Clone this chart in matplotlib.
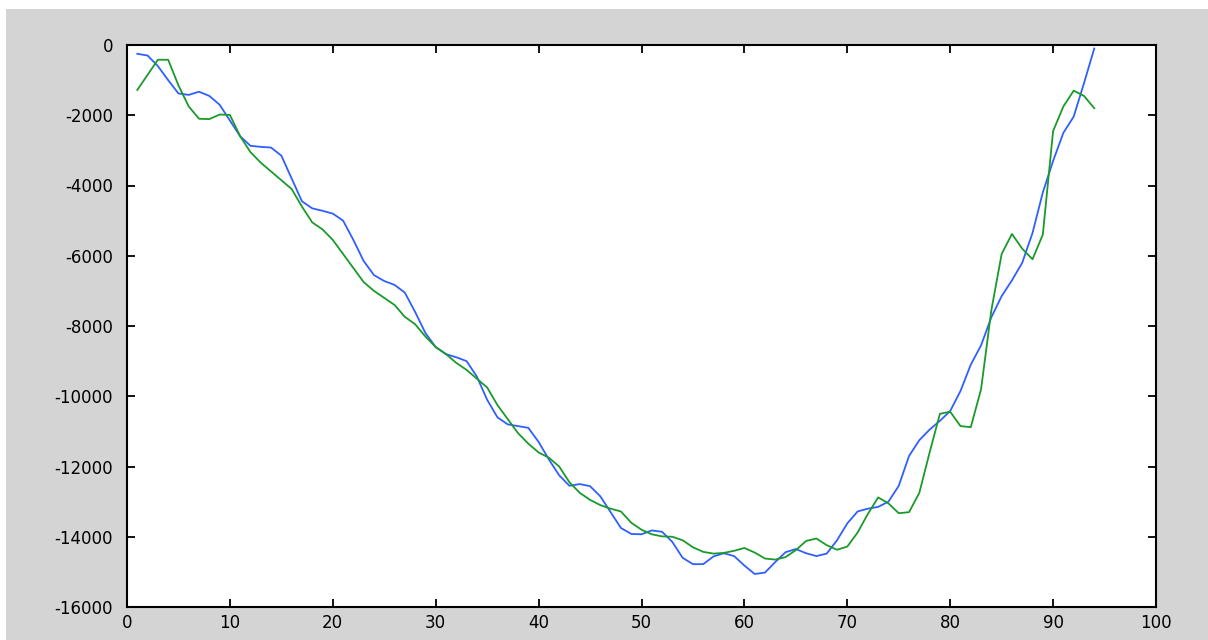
import matplotlib
matplotlib.use("Agg")
import matplotlib.pyplot as plt
from matplotlib.patches import Rectangle

x_values = list(range(1, 95))

blue_series = [
    -250, -300, -600, -1000, -1380, -1420, -1330, -1450, -1700, -2150,
    -2600, -2870, -2900, -2920, -3150, -3800, -4450, -4650, -4720, -4800,
    -5000, -5550, -6150, -6550, -6720, -6830, -7050, -7600, -8200, -8600,
    -8800, -8890, -9000, -9440, -10100, -10600, -10800, -10850, -10900, -11300,
    -11800, -12250, -12550, -12500, -12560, -12850, -13300, -13750, -13920, -13930,
    -13820, -13860, -14150, -14600, -14780, -14780, -14560, -14470, -14550, -14820,
    -15060, -15020, -14720, -14440, -14350, -14470, -14550, -14480, -14100, -13620,
    -13280, -13200, -13150, -13000, -12550, -11700, -11250, -10950, -10700, -10420,
    -9850, -9100, -8550, -7750, -7150, -6700, -6200, -5350, -4200, -3300,
    -2500, -2040, -1090, -100,
]

green_series = [
    -1280, -850, -420, -420, -1150, -1750, -2100, -2110, -1980, -1990,
    -2600, -3050, -3350, -3600, -3850, -4100, -4600, -5050, -5250, -5550,
    -5950, -6350, -6750, -7000, -7200, -7400, -7740, -7950, -8300, -8600,
    -8800, -9050, -9250, -9500, -9750, -10250, -10650, -11050, -11350, -11600,
    -11750, -12000, -12450, -12750, -12950, -13100, -13200, -13280, -13600, -13800,
    -13930, -13990, -14000, -14100, -14300, -14430, -14480, -14460, -14400, -14320,
    -14450, -14620, -14650, -14580, -14380, -14120, -14050, -14240, -14370, -14280,
    -13880, -13350, -12880, -13050, -13330, -13300, -12750, -11600, -10500, -10440,
    -10850, -10880, -9800, -7550, -5950, -5380, -5800, -6100, -5400, -2450,
    -1750, -1300, -1450, -1800,
]

x_ticks = [0, 10, 20, 30, 40, 50, 60, 70, 80, 90, 100]
y_ticks = [0, -2000, -4000, -6000, -8000, -10000, -12000, -14000, -16000]

plt.rcParams['font.family'] = ['DejaVu Sans']

fig = plt.figure(figsize=(12.08, 6.4), dpi=100, facecolor='white')
fig.patches.append(Rectangle((6 / 1208, 0), 1 - 6 / 1208, 1 - 9 / 640,
                             transform=fig.transFigure, facecolor='#d4d4d4',
                             edgecolor='none', zorder=-10))

ax = fig.add_axes([127 / 1208, 33 / 640, (1156 - 127) / 1208, (607 - 45) / 640])
ax.set_facecolor('white')

ax.plot(x_values, blue_series, color='#2f5fff', linewidth=1.3)
ax.plot(x_values, green_series, color='#1a9a2a', linewidth=1.3)

ax.set_xlim(0, 100)
ax.set_ylim(-16000, 0)
ax.set_xticks(x_ticks)
ax.set_yticks(y_ticks)
ax.set_xticklabels([str(v) for v in x_ticks])
ax.set_yticklabels([str(v) for v in y_ticks])

ax.tick_params(direction='in', length=6, width=1.3, top=True, right=True,
               labelsize=12, colors='black')
ax.tick_params(axis='y', pad=10)
ax.tick_params(axis='x', pad=5)
for s in ax.spines.values():
    s.set_linewidth(1.5)
    s.set_color('black')

fig.savefig('out.png', dpi=100, facecolor=fig.get_facecolor())
